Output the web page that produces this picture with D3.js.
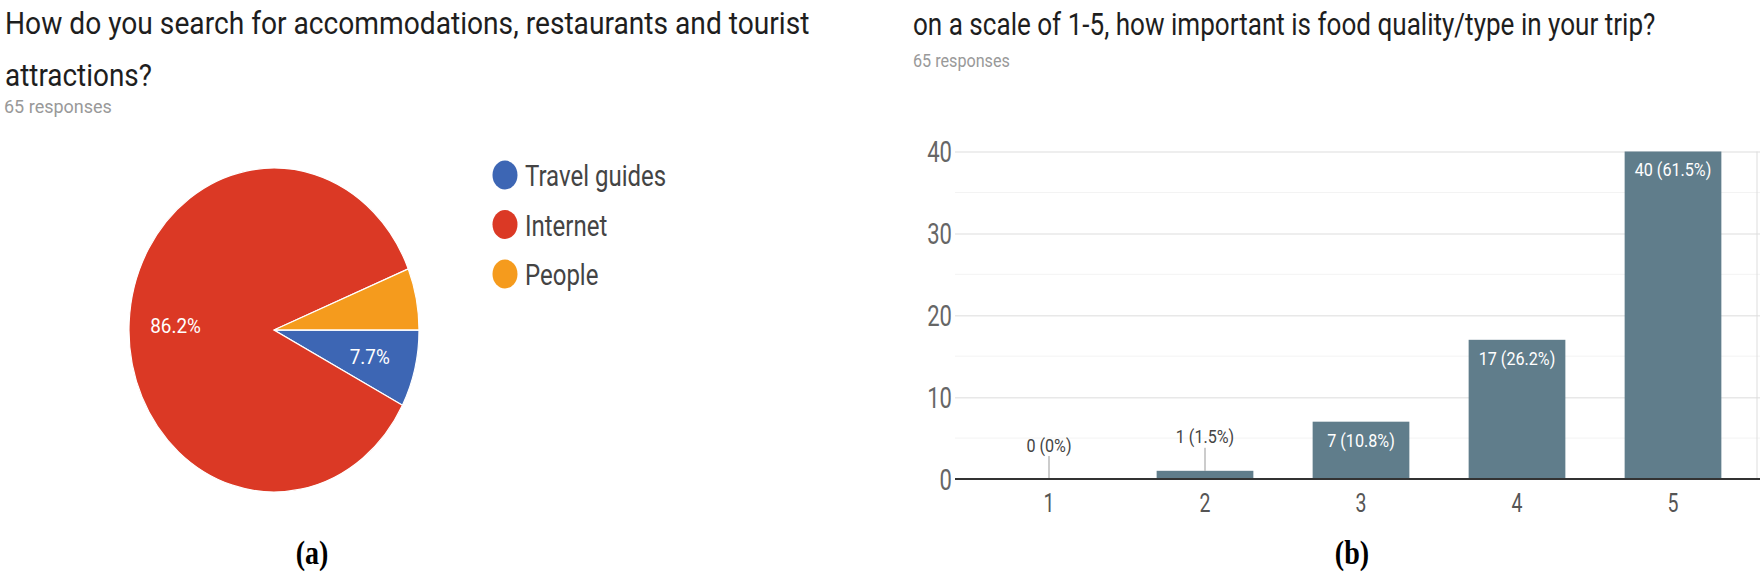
<!DOCTYPE html>
<html>
<head>
<meta charset="utf-8">
<title>Survey charts</title>
<script src="https://cdn.jsdelivr.net/npm/d3@7/dist/d3.min.js"></script>
<style>
    html, body {
        margin: 0;
        padding: 0;
        background: #fff;
    }
    text {
        font-family: Roboto, "Noto Sans", sans-serif;
    }
    text.caption {
        font-family: "Liberation Serif", "Times New Roman", serif;
        font-weight: bold;
    }
</style>
</head>
<body>
<div id="chart"></div>
<script>
    // (a) pie
    const pieTitle = ["How do you search for accommodations, restaurants and tourist", "attractions?"];
    const pieLabels = ["Travel guides", "Internet", "People"];
    const pieCounts = [5, 56, 4];
    const pieColors = ["#3d66b4", "#db3925", "#f59b1d"];

    // (b) bars
    const barTitle = "on a scale of 1-5, how important is food quality/type in your trip?";
    const barCategories = ["1", "2", "3", "4", "5"];
    const barCounts = [0, 1, 7, 17, 40];
    const barPercents = ["0%", "1.5%", "10.8%", "26.2%", "61.5%"];
    const yTicks = [0, 10, 20, 30, 40];
    const yMinorTicks = [5, 15, 25, 35];

    const responses = "65 responses";
    const captions = ["(a)", "(b)"];

    const width = 1760;
    const height = 581;

    const svg = d3.select("#chart").append("svg")
            .attr("width", width)
            .attr("height", height)
            .attr("viewBox", [0, 0, width, height]);

    // the picture's text is narrower than Roboto: scale it horizontally
    // around its own anchor, either by a factor or to a target width
    function squeezeBy(sel, f) {
        sel.each(function () {
            const t = d3.select(this);
            const x0 = +t.attr("x") || 0;
            const prev = t.attr("transform") || "";
            t.attr("transform", `${prev} translate(${x0 * (1 - f)},0) scale(${f},1)`);
        });
        return sel;
    }
    function squeeze(sel, w) {
        sel.each(function () {
            squeezeBy(d3.select(this), w / this.getComputedTextLength());
        });
        return sel;
    }

    // ---------- left: pie ----------
    const left = svg.append("g");

    left.selectAll("text.title")
            .data(pieTitle)
            .join("text")
            .attr("class", "title")
            .attr("x", 5)
            .attr("y", (d, i) => 34 + i * 52)
            .attr("font-size", 32)
            .attr("fill", "#1e1e1e")
            .text(d => d)
            .each(function (d, i) {
                squeeze(d3.select(this), i === 0 ? 805 : 147);
            });

    squeeze(left.append("text")
            .attr("x", 4)
            .attr("y", 113)
            .attr("font-size", 19)
            .attr("fill", "#999")
            .text(responses), 108);

    const total = d3.sum(pieCounts);
    const pie = d3.pie()
            .sort(null)
            .startAngle(Math.PI / 2)
            .endAngle(Math.PI / 2 + 2 * Math.PI)
            .value(d => d);
    const arcs = pie(pieCounts);
    const ry = 162;
    const rx = 145;
    const arc = d3.arc().innerRadius(0).outerRadius(ry);
    const labelArc = d3.arc().innerRadius(ry * 0.68).outerRadius(ry * 0.68);

    const pieG = left.append("g")
            .attr("transform", `translate(274,330) scale(${rx / ry},1)`);

    pieG.selectAll("path")
            .data(arcs)
            .join("path")
            .attr("d", arc)
            .attr("fill", (d, i) => pieColors[i])
            .attr("stroke", "#fff")
            .attr("stroke-width", 1.3);

    pieG.selectAll("text")
            .data(arcs.filter(d => d.value / total >= 0.07))
            .join("text")
            .attr("transform", d => {
                const [cx, cy] = labelArc.centroid(d);
                return `translate(${cx},${cy + 8}) scale(${ry / rx},1)`;
            })
            .attr("text-anchor", "middle")
            .attr("font-size", 21)
            .attr("fill", "#fff")
            .text(d => `${(d.value / total * 100).toFixed(1)}%`)
            .call(squeezeBy, 0.9);

    const legend = left.append("g")
            .selectAll("g")
            .data(pieLabels)
            .join("g")
            .attr("transform", (d, i) => `translate(505,${175 + i * 49.5})`);
    legend.append("ellipse")
            .attr("rx", 12.5)
            .attr("ry", 14.5)
            .attr("fill", (d, i) => pieColors[i]);
    legend.append("text")
            .attr("x", 20)
            .attr("y", 11)
            .attr("font-size", 30)
            .attr("fill", "#444")
            .text(d => d)
            .call(squeezeBy, 0.8);

    // ---------- right: bars ----------
    const right = svg.append("g");

    squeeze(right.append("text")
            .attr("x", 913)
            .attr("y", 35)
            .attr("font-size", 31)
            .attr("fill", "#1e1e1e")
            .text(barTitle), 743);

    squeeze(right.append("text")
            .attr("x", 913)
            .attr("y", 67)
            .attr("font-size", 19)
            .attr("fill", "#999")
            .text(responses), 97);

    const x = d3.scaleBand()
            .domain(barCategories)
            .range([971, 1751])
            .paddingInner(0.38)
            .paddingOuter(0.19);
    const y = d3.scaleLinear()
            .domain([0, 40])
            .range([479, 151.5]);

    const plotLeft = 955;
    const plotRight = 1760;

    right.append("g")
            .selectAll("line")
            .data(yMinorTicks)
            .join("line")
            .attr("x1", plotLeft)
            .attr("x2", plotRight)
            .attr("y1", d => y(d))
            .attr("y2", d => y(d))
            .attr("stroke", "#f3f3f3");

    right.append("g")
            .attr("transform", `translate(${plotLeft},0)`)
            .call(d3.axisLeft(y).tickValues(yTicks).tickSize(-(plotRight - plotLeft)).tickPadding(3))
            .call(g => g.select(".domain").remove())
            .call(g => g.selectAll(".tick line").attr("stroke", d => d === 0 ? "none" : "#e8e8e8").attr("stroke-width", 1.5))
            .call(g => g.selectAll(".tick text")
                    .attr("font-size", 29)
                    .attr("fill", "#666")
                    .attr("dy", "0.36em")
                    .call(squeezeBy, 0.76));

    right.append("line")
            .attr("x1", 1757)
            .attr("x2", 1757)
            .attr("y1", y(40))
            .attr("y2", y(0))
            .attr("stroke", "#ddd");

    right.append("g")
            .selectAll("rect")
            .data(barCounts)
            .join("rect")
            .attr("x", (d, i) => x(barCategories[i]))
            .attr("y", d => y(d))
            .attr("width", x.bandwidth())
            .attr("height", d => y(0) - y(d))
            .attr("fill", "#607d8b");

    // value labels: inside tall bars, above short ones with a leader line
    const isShort = d => y(0) - y(d) < 40;
    const labels = right.append("g")
            .selectAll("g")
            .data(barCounts)
            .join("g")
            .attr("transform", (d, i) => `translate(${x(barCategories[i]) + x.bandwidth() / 2},${y(d)})`);

    labels.filter(isShort)
            .append("line")
            .attr("y1", 0)
            .attr("y2", -23)
            .attr("stroke", "#999");

    labels.append("text")
            .attr("text-anchor", "middle")
            .attr("y", d => isShort(d) ? -27.5 : 25)
            .attr("font-size", 19)
            .attr("fill", d => isShort(d) ? "#444" : "#fff")
            .text((d, i) => `${d} (${barPercents[i]})`)
            .call(squeezeBy, 0.85);

    right.append("line")
            .attr("x1", plotLeft)
            .attr("x2", plotRight)
            .attr("y1", y(0))
            .attr("y2", y(0))
            .attr("stroke", "#333")
            .attr("stroke-width", 2);

    right.append("g")
            .attr("transform", `translate(0,${y(0)})`)
            .call(d3.axisBottom(x).tickSize(0).tickPadding(33))
            .call(g => g.select(".domain").remove())
            .call(g => g.selectAll(".tick text")
                    .attr("font-size", 26)
                    .attr("fill", "#555")
                    .attr("dy", "0")
                    .call(squeezeBy, 0.75));

    // ---------- captions ----------
    svg.selectAll("text.caption")
            .data(captions)
            .join("text")
            .attr("class", "caption")
            .attr("x", (d, i) => i === 0 ? 312 : 1352)
            .attr("y", 564)
            .attr("text-anchor", "middle")
            .attr("font-size", 33)
            .attr("fill", "#000")
            .text(d => d)
            .call(squeezeBy, 0.85);
</script>
</body>
</html>
